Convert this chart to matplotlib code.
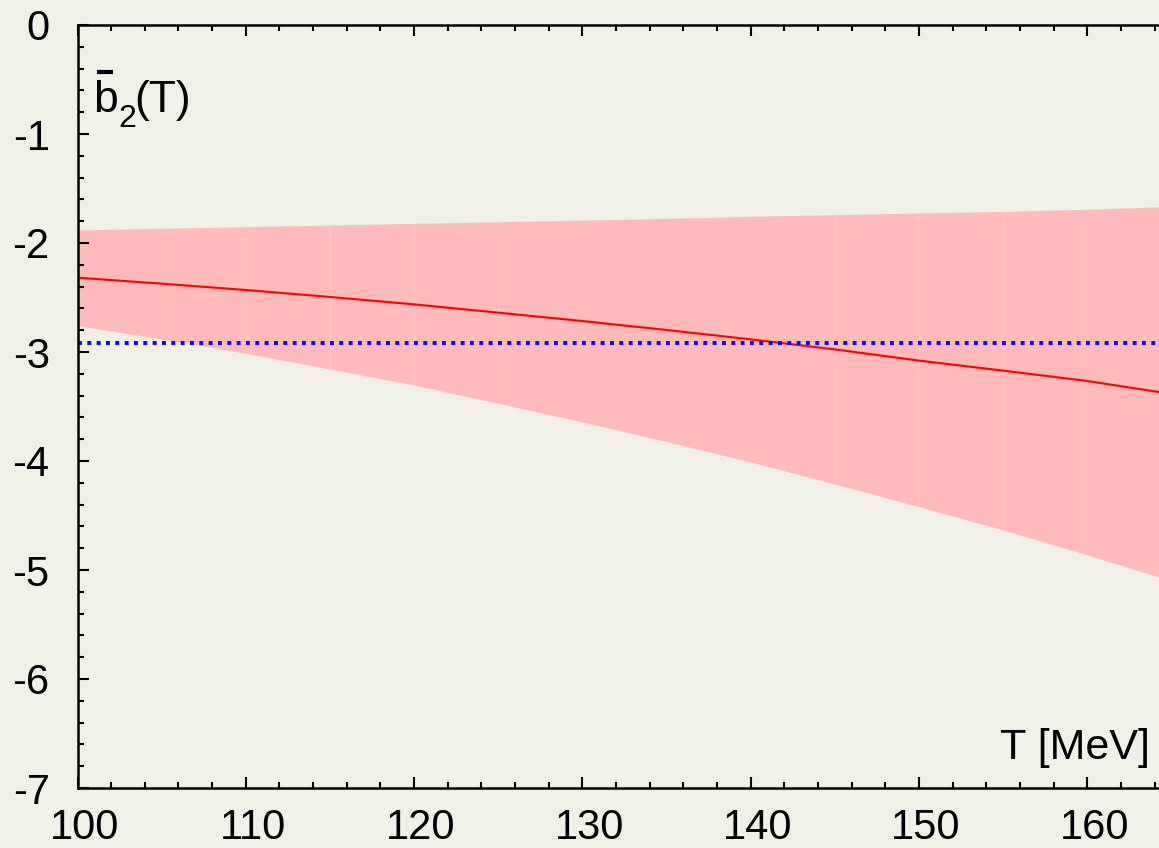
import matplotlib
matplotlib.use("Agg")
import matplotlib.pyplot as plt
import matplotlib.transforms as mtransforms
from matplotlib.ticker import MultipleLocator
from matplotlib.lines import Line2D

plt.rcParams['font.family'] = ['Liberation Sans', 'DejaVu Sans']
plt.rcParams['axes.unicode_minus'] = False

# temperature grid (MeV) and the band
T = [100, 105, 110, 115, 120, 125, 130, 135, 140, 145, 150, 155, 160, 165]
b2_upper = [-1.88, -1.865, -1.85, -1.835, -1.82, -1.805, -1.79, -1.775, -1.755, -1.74, -1.725, -1.71, -1.69, -1.665]
b2_central = [-2.318, -2.373, -2.431, -2.495, -2.563, -2.639, -2.716, -2.798, -2.884, -2.976, -3.079, -3.171, -3.266, -3.385]
b2_lower = [-2.758, -2.881, -3.012, -3.156, -3.303, -3.471, -3.642, -3.822, -4.009, -4.211, -4.419, -4.633, -4.862, -5.10]
b2_ref = -2.915  # blue dotted reference value

W, H = 1159, 848
bg = '#f1f0e6'
fig = plt.figure(figsize=(W / 100, H / 100), dpi=100, facecolor=bg)
ax = fig.add_axes([77.5 / W, 60 / H, (1171.5 - 77.5) / W, 763 / H])
ax.set_facecolor(bg)

# band drawn strip by strip
for i in range(len(T) - 1):
    ax.fill_between(T[i:i + 2], b2_lower[i:i + 2], b2_upper[i:i + 2],
                    color='#ffbaba', linewidth=0, antialiased=True)
ax.plot(T, b2_central, color='red', lw=1.5)
ax.axhline(b2_ref, color='blue', lw=2.8, linestyle=(0, (1, 1.4)), dash_capstyle='butt')

ax.set_xlim(100, 165)
ax.set_ylim(-7, 0)
ax.xaxis.set_major_locator(MultipleLocator(10))
ax.xaxis.set_minor_locator(MultipleLocator(2))
ax.yaxis.set_major_locator(MultipleLocator(1))
ax.yaxis.set_minor_locator(MultipleLocator(0.2))
ax.tick_params(which='both', direction='in', top=True, right=True, width=1.5, labelsize=30)
ax.tick_params(which='major', length=8)
ax.tick_params(which='minor', length=4)
ax.tick_params(axis='x', pad=14.5)
ax.tick_params(axis='y', pad=20)
for s in ax.spines.values():
    s.set_linewidth(1.8)

# x labels sit a little right of their ticks in the original
shift = mtransforms.ScaledTranslation(7 / 100, 0, fig.dpi_scale_trans)
for lab in ax.get_xticklabels():
    lab.set_transform(lab.get_transform() + shift)

# label b2(T) with a bar over the b (figure pixel positions)
def fpos(x, y):
    return x / W, 1 - y / H

fig.text(*fpos(93, 112), 'b', fontsize=32, ha='left', va='baseline')
fig.text(*fpos(118, 127), '2', fontsize=23, ha='left', va='baseline')
fig.text(*fpos(134, 112), '(T)', fontsize=32, ha='left', va='baseline')
fig.add_artist(Line2D([97 / W, 113 / W], [1 - 72 / H, 1 - 72 / H], color='black', lw=3,
                      solid_capstyle='butt', transform=fig.transFigure))
fig.text(*fpos(1150, 759), 'T [MeV]', fontsize=31, ha='right', va='baseline')

plt.savefig('out.png', dpi=100, facecolor=bg)
